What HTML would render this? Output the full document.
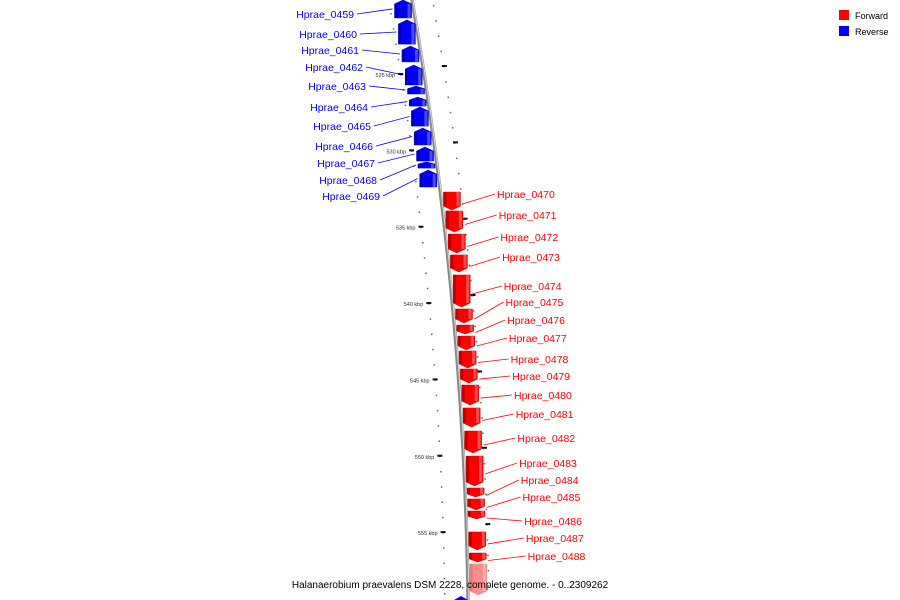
<!DOCTYPE html>
<html><head><meta charset="utf-8"><style>
body{margin:0;background:#fff}
svg{display:block}
text{font-family:"Liberation Sans",sans-serif}
</style></head><body>
<svg id="map" width="900" height="600" viewBox="0 0 900 600">
<g id="ticks"></g>
<path id="backbone" fill="none" stroke="#8a8a8a" stroke-width="3.5"/>
<path id="backbone2" fill="none" stroke="#d8d8d8" stroke-width="1"/>
<g id="genes"></g>
<g id="labels"></g>
<g>
<rect x="839" y="10" width="10" height="10" fill="#f00"/>
<text x="855" y="19" font-size="9">Forward</text>
<rect x="839" y="26" width="10" height="10" fill="#00f"/>
<text x="855" y="35" font-size="9">Reverse</text>
</g>
<text x="450" y="588" font-size="10" text-anchor="middle" letter-spacing="0">Halanaerobium praevalens DSM 2228, complete genome. - 0..2309262</text>
</svg>
<script>
const geneNames=["Hprae_0459","Hprae_0460","Hprae_0461","Hprae_0462","Hprae_0463","Hprae_0464","Hprae_0465","Hprae_0466","Hprae_0467","Hprae_0468","Hprae_0469","Hprae_0470","Hprae_0471","Hprae_0472","Hprae_0473","Hprae_0474","Hprae_0475","Hprae_0476","Hprae_0477","Hprae_0478","Hprae_0479","Hprae_0480","Hprae_0481","Hprae_0482","Hprae_0483","Hprae_0484","Hprae_0485","Hprae_0486","Hprae_0487","Hprae_0488",""];
const geneStart=[520.15,521.46,523.17,524.41,525.79,526.51,527.16,528.54,529.78,530.76,531.29,532.73,533.97,535.48,536.85,538.16,540.39,541.44,542.16,543.14,544.32,545.37,546.87,548.38,550.02,552.11,552.83,553.62,554.99,556.37,557.09];
const geneEnd=[521.33,523.04,524.21,525.72,526.31,527.10,528.41,529.65,530.70,531.16,532.40,533.91,535.35,536.72,537.97,540.26,541.31,542.03,543.07,544.25,545.24,546.68,548.12,549.82,551.98,552.70,553.55,554.14,556.17,556.96,559.12];
const geneStrand=[-1,-1,-1,-1,-1,-1,-1,-1,-1,-1,-1,1,1,1,1,1,1,1,1,1,1,1,1,1,1,1,1,1,1,1,1];
const labelY=[14,34,50,67,86,107,126,146,163,180,196,194,215,237,257,286,302,320,338,359,376,395,414,438,463,480,497,521,538,556,0];
const majorTicks=[525,530,535,540,545,550,555];
const majorLabels=["525 kbp","530 kbp","535 kbp","540 kbp","545 kbp","550 kbp","555 kbp"];
const NS="http://www.w3.org/2000/svg";
function yOf(k){return 74+(k-525)*15.27;}
function xOf(y){return 412+0.1733*y-0.000133*y*y;}
function mk(t,a,p){const e=document.createElementNS(NS,t);for(const k in a)e.setAttribute(k,a[k]);p.appendChild(e);return e;}
let d="";for(let y=-5;y<=605;y+=5)d+=(y<0?"M":"L")+xOf(y).toFixed(1)+" "+y;
document.getElementById("backbone").setAttribute("d",d);
let d2="";for(let y=-5;y<=605;y+=5)d2+=(y<0?"M":"L")+(xOf(y)+0.8).toFixed(1)+" "+y;
document.getElementById("backbone2").setAttribute("d",d2);
const tg=document.getElementById("ticks");
for(let k=519;k<=560;k++){const y=yOf(k);const x=xOf(y);
 const dot=mk("rect",{x:x-24,y:y,width:1.5,height:1.5,fill:"#666"},tg);
 
 
 const y2=y-8,x2=xOf(y2);
 const dot2=mk("rect",{x:x2+20,y:y2,width:1.5,height:1.5,fill:"#666"},tg);
 
 }
majorTicks.forEach((k,i)=>{const y=yOf(k),x=xOf(y);
 const t=mk("rect",{x:x-26,y:y-1,width:5,height:2,fill:"#111"},tg);
 
 
 const y2=y-8,x2=xOf(y2);
 const t2=mk("rect",{x:x2+19,y:y2-1,width:5,height:2,fill:"#111"},tg);
 
 
 const l=mk("text",{x:x-29,y:y+3,"font-size":"5.5","text-anchor":"end",fill:"#333"},tg);
 l.textContent=majorLabels[i];
 
 });
const gg=document.getElementById("genes"),lg=document.getElementById("labels");
const blueEnds=[354,357,359,363,366,368,371,373,375,377,380];
geneNames.forEach((n,i)=>{const y1=yOf(geneStart[i]),y2=yOf(geneEnd[i]);const s=geneStrand[i];
 const xm=xOf((y1+y2)/2);const a=s>0?xm+2:xm-19,b=a+17;const h=Math.min(4,(y2-y1)/3);
 let pts;
 if(s>0)pts=[[a,y1],[b,y1],[b,y2-h],[(a+b)/2,y2],[a,y2-h]];
 else pts=[[(a+b)/2,y1],[b,y1+h],[b,y2],[a,y2],[a,y1+h]];
 const col=s>0?"#f00":"#00f";
 const p=mk("polygon",{points:pts.map(q=>q.join(",")).join(" "),fill:col,stroke:s>0?"#c00":"#00a","stroke-width":"0.5",opacity:n?1:0.45},gg);
 
 
 const sh=mk("rect",{x:a,y:s>0?y1:y1+h,width:3,height:Math.max(0,y2-y1-h),fill:"#000",opacity:n?0.25:0.1},gg);
 
 
 const hl=mk("rect",{x:b-4,y:s>0?y1:y1+h,width:3,height:Math.max(0,y2-y1-h),fill:"#fff",opacity:0.3},gg);
 
 
 if(!n)return;
 const ly=labelY[i];const gy=(y1+y2)/2;
 let tx,ln;
 if(s<0){tx=blueEnds[i];ln=[tx+3,ly,a-2,gy];}
 else{tx=497+(i-11)*1.7;ln=[b+2,gy+3,tx-2,ly];}
 const L=mk("line",{x1:ln[0],y1:ln[1],x2:ln[2],y2:ln[3],stroke:col,"stroke-width":"0.8"},lg);
 
 
 const t=mk("text",{x:tx,y:ly+4,"font-size":"10.5",fill:col,"text-anchor":s<0?"end":"start"},lg);
 t.textContent=n;
 
 
});
const mb=mk("polygon",{points:"454,600 461,596 468,600",fill:"#00f"},gg);


</script>
</body></html>
